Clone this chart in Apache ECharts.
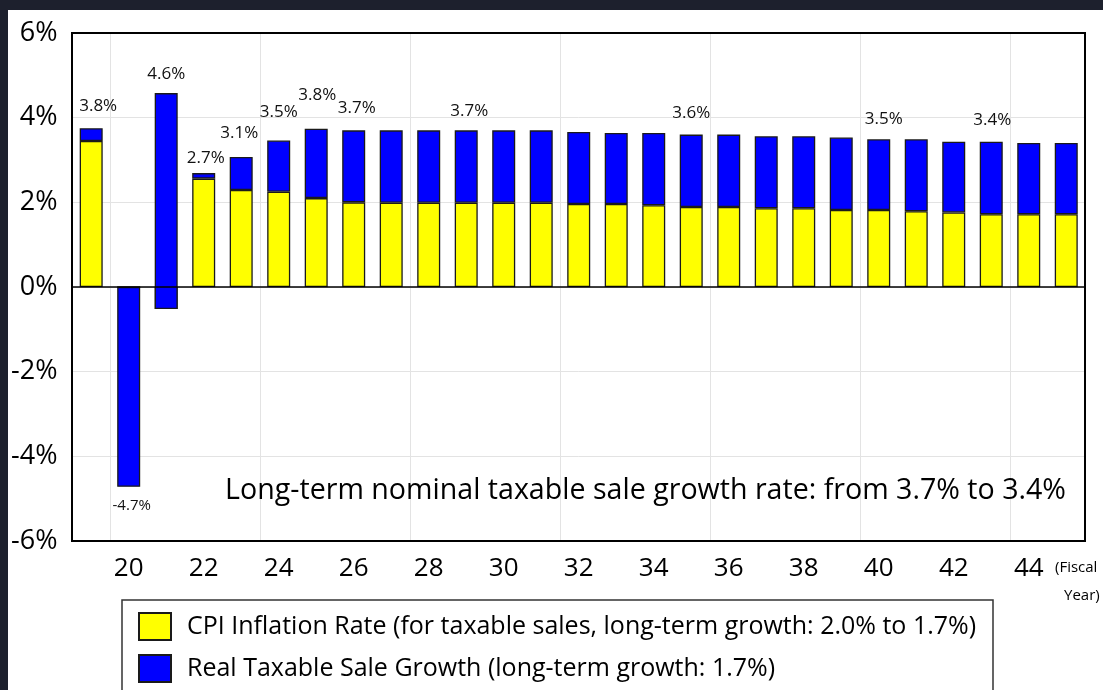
<!DOCTYPE html>
<html>
<head>
<meta charset="utf-8">
<script src="https://cdn.jsdelivr.net/npm/echarts@6/dist/echarts.min.js"></script>
<style>
  html, body { margin: 0; padding: 0; background: #1d202d; }
  #wrap { position: relative; width: 1103px; height: 690px; background: #1d202d; overflow: hidden; }
  #chart { position: absolute; left: 8px; top: 10px; width: 1095px; height: 680px; background: #fff; }
</style>
</head>
<body>
<div id="wrap"><div id="chart"></div></div>
<script>
// fiscal years 2019 - 2045
let years = ['19', '20', '21', '22', '23', '24', '25', '26', '27', '28', '29', '30', '31', '32',
  '33', '34', '35', '36', '37', '38', '39', '40', '41', '42', '43', '44', '45']
// CPI inflation rate (%)
let cpi = [3.45, 0, -0.52, 2.56, 2.29, 2.25, 2.10, 2.00, 1.99, 1.99, 1.99, 1.99, 1.99, 1.96,
  1.96, 1.93, 1.89, 1.89, 1.86, 1.86, 1.82, 1.82, 1.79, 1.76, 1.72, 1.72, 1.72]
// real taxable sale growth (%)
let realGrowth = [0.30, -4.72, 5.10, 0.13, 0.78, 1.21, 1.64, 1.70, 1.71, 1.71, 1.71, 1.71, 1.71, 1.70,
  1.68, 1.71, 1.71, 1.71, 1.70, 1.70, 1.71, 1.67, 1.70, 1.67, 1.71, 1.68, 1.68]
// nominal growth labels shown above some bars
let nominalLabel = [3.8, -4.7, 4.6, 2.7, 3.1, 3.5, 3.8, 3.7, null, null, 3.7, null, null, null,
  null, null, 3.6, null, null, null, null, 3.5, null, null, 3.4, null, null]
let yTicks = { min: -6, max: 6, step: 2 }

let fontName = '"Open Sans"'
// label nudges [distance above bar, x shift]
let nudge = { 0: [14, 7], 1: [11, 3], 2: [10, 0], 3: [6, 2], 4: [15, -2], 5: [20, 0], 6: [25, 1],
  7: [14, 3], 10: [11, 3], 16: [13, 0], 21: [12, 5], 24: [13, 1] }

let realData = realGrowth.map(function (v, i) {
  let item = { value: v }
  if (nominalLabel[i] !== null) {
    let n = nominalLabel[i]
    let nd = nudge[i] || [12, 0]
    item.label = {
      show: true,
      position: n < 0 ? 'bottom' : 'top',
      distance: nd[0],
      offset: [nd[1], 0],
      fontSize: n < 0 ? 15 : 17,
      formatter: n.toFixed(1) + '%'
    }
  }
  return item
})

let chart = echarts.init(document.getElementById('chart'))
let option = {
  animation: false,
  textStyle: { fontFamily: fontName },
  grid: { left: 64, top: 23, right: 18, bottom: 149, containLabel: false },
  legend: {
    orient: 'vertical',
    left: 130,
    top: 602,
    padding: 0,
    itemWidth: 32,
    itemHeight: 27,
    itemGap: 13,
    icon: 'rect',
    selectedMode: false,
    textStyle: { fontSize: 25, color: '#000', fontFamily: fontName, padding: [0, 0, 0, 11] },
    data: ['CPI Inflation Rate (for taxable sales, long-term growth: 2.0% to 1.7%)',
      'Real Taxable Sale Growth (long-term growth: 1.7%)']
  },
  xAxis: {
    type: 'category',
    data: years,
    axisLine: { show: false, onZero: false },
    axisTick: { show: false },
    axisLabel: {
      interval: function (i) { return i % 2 === 1 },
      fontSize: 26,
      color: '#000',
      margin: 15
    },
    splitLine: {
      show: true,
      interval: function (i) { return i % 4 === 1 },
      lineStyle: { color: '#e3e3e3', width: 1 }
    }
  },
  yAxis: {
    type: 'value',
    min: yTicks.min,
    max: yTicks.max,
    interval: yTicks.step,
    axisLine: { show: false },
    axisTick: { show: false },
    axisLabel: { formatter: '{value}%', fontSize: 27, color: '#000', margin: 15 },
    splitLine: { lineStyle: { color: '#e3e3e3', width: 1 } }
  },
  series: [
    {
      name: 'CPI Inflation Rate (for taxable sales, long-term growth: 2.0% to 1.7%)',
      type: 'bar',
      stack: 'g',
      stackStrategy: 'all',
      barWidth: 23,
      data: cpi,
      itemStyle: { color: '#ffff00', borderColor: '#1a1a1a', borderWidth: 1.3 },
      markLine: {
        silent: true,
        symbol: 'none',
        label: { show: false },
        lineStyle: { color: '#000', type: 'solid', width: 1.5 },
        data: [{ yAxis: 0 }]
      }
    },
    {
      name: 'Real Taxable Sale Growth (long-term growth: 1.7%)',
      type: 'bar',
      stack: 'g',
      stackStrategy: 'all',
      barWidth: 23,
      data: realData,
      itemStyle: { color: '#0000ff', borderColor: '#1a1a1a', borderWidth: 1.3 },
      label: { show: false, color: '#111', fontFamily: fontName }
    }
  ],
  graphic: [
    {
      type: 'rect',
      z: 100,
      silent: true,
      shape: { x: 64, y: 23, width: 1013, height: 508 },
      style: { fill: 'none', stroke: '#000', lineWidth: 2 }
    },
    {
      type: 'rect',
      z: 100,
      silent: true,
      shape: { x: 114, y: 590, width: 871, height: 120 },
      style: { fill: 'none', stroke: '#333', lineWidth: 1.5 }
    },
    {
      type: 'text',
      z: 100,
      silent: true,
      style: {
        x: 1058, y: 481, text: 'Long-term nominal taxable sale growth rate: from 3.7% to 3.4%',
        align: 'right', verticalAlign: 'middle', fontSize: 28.6, fontFamily: fontName, fill: '#000'
      }
    },
    {
      type: 'text',
      z: 100,
      silent: true,
      style: {
        x: 1047, y: 558, text: '(Fiscal', align: 'left', verticalAlign: 'middle',
        fontSize: 15, fontFamily: fontName, fill: '#000'
      }
    },
    {
      type: 'text',
      z: 100,
      silent: true,
      style: {
        x: 1056, y: 586, text: 'Year)', align: 'left', verticalAlign: 'middle',
        fontSize: 15, fontFamily: fontName, fill: '#000'
      }
    }
  ]
}
chart.setOption(option)
</script>
</body>
</html>
